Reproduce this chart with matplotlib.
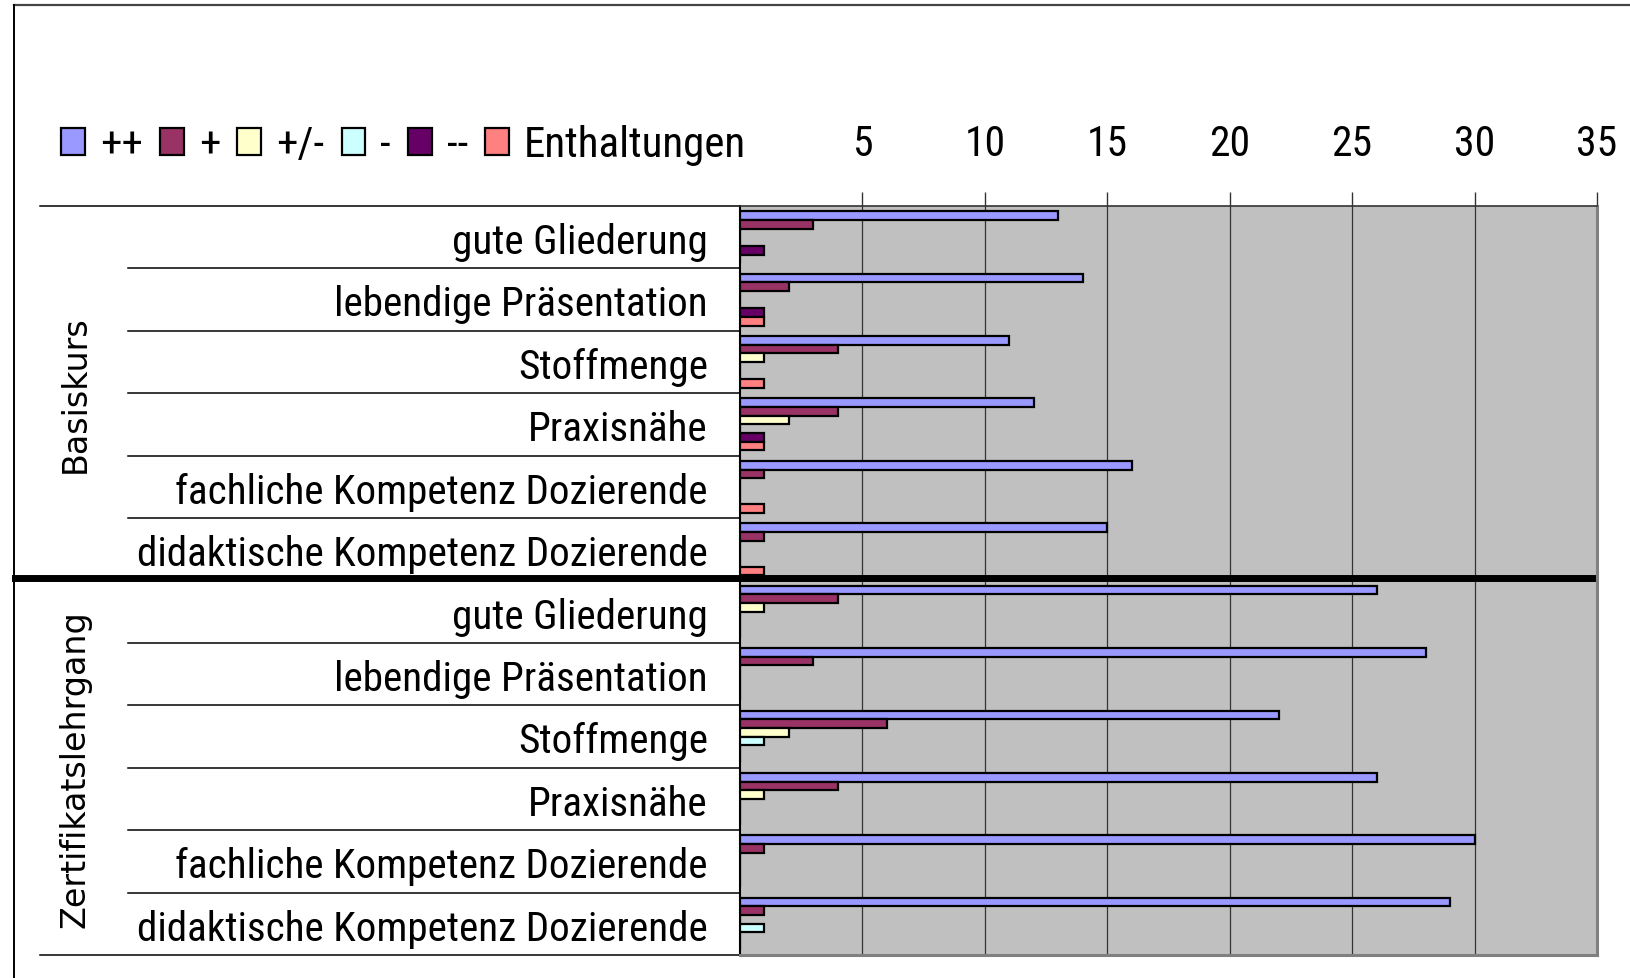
import matplotlib
matplotlib.use('Agg')
import matplotlib.pyplot as plt
import matplotlib.patches as patches
import matplotlib.transforms as transforms
from matplotlib import font_manager
from matplotlib.lines import Line2D

# categories, top to bottom
groups = ['Basiskurs', 'Zertifikatslehrgang']
criteria = ['gute Gliederung', 'lebendige Präsentation', 'Stoffmenge', 'Praxisnähe',
            'fachliche Kompetenz Dozierende', 'didaktische Kompetenz Dozierende']
categories = criteria + criteria

series_names = ['++', '+', '+/-', '-', '--', 'Enthaltungen']
series_colors = ['#9999FF', '#993366', '#FFFFCC', '#CCFFFF', '#660066', '#FF8080']

very_good = [13, 14, 11, 12, 16, 15, 26, 28, 22, 26, 30, 29]
good = [3, 2, 4, 4, 1, 1, 4, 3, 6, 4, 1, 1]
neutral = [0, 0, 1, 2, 0, 0, 1, 0, 2, 1, 0, 0]
bad = [0, 0, 0, 0, 0, 0, 0, 0, 1, 0, 0, 1]
very_bad = [1, 1, 0, 1, 0, 0, 0, 0, 0, 0, 0, 0]
abstentions = [0, 1, 1, 1, 1, 1, 0, 0, 0, 0, 0, 0]
values = [very_good, good, neutral, bad, very_bad, abstentions]

x_ticks = [5, 10, 15, 20, 25, 30, 35]

W, H = 1631, 979


def pick_font(cands):
    names = {f.name for f in font_manager.fontManager.ttflist}
    for c in cands:
        if c in names:
            return c
    return 'DejaVu Sans'


narrow = pick_font(['Liberation Sans Narrow', 'DejaVu Sans Condensed', 'Roboto Condensed', 'Liberation Sans'])
wide = 'DejaVu Sans'


def fx(px):
    return px / W


def fy(py):
    return 1 - py / H


fig = plt.figure(figsize=(W / 100, H / 100), dpi=100)
fig.patch.set_facecolor('white')

left, right, top, bottom = 740, 1597, 207, 956
ax = fig.add_axes([fx(left), fy(bottom), fx(right - left), (bottom - top) / H])
ax.set_facecolor('#C0C0C0')

n_cat = len(categories)
n_ser = len(series_names)
h = 0.139
gap = (1 - n_ser * h) / 2
for j, (vals, col) in enumerate(zip(values, series_colors)):
    ys = [i - 0.5 + gap + (j + 0.5) * h for i in range(n_cat)]
    ax.barh(ys, vals, height=h, color=col, edgecolor='black', linewidth=1.6, zorder=3)

ax.set_xlim(0, 35)
ax.set_ylim(n_cat - 0.5, -0.5)
ax.xaxis.tick_top()
ax.set_xticks(x_ticks)
ax.set_xticklabels([str(t) for t in x_ticks], fontsize=30, family=narrow)
ax.tick_params(axis='x', length=10, width=1, color='#333333', pad=20)
ax.set_yticks([])
ax.grid(axis='x', color='#333333', linewidth=0.9, zorder=1)

ax.spines['left'].set_color('black')
ax.spines['left'].set_linewidth(1.5)
ax.spines['top'].set_color('#333333')
ax.spines['top'].set_linewidth(1.2)
for s in ('right', 'bottom'):
    ax.spines[s].set_color('#808080')
    ax.spines[s].set_linewidth(2.2)

# category labels and separator lines in the label area
trans = transforms.blended_transform_factory(fig.transFigure, ax.transData)
for i, lab in enumerate(categories):
    ax.text(fx(708), i + 0.07, lab, transform=trans, ha='right', va='center',
            fontsize=29.6, family=narrow, clip_on=False)
for i in range(n_cat + 1):
    x0 = 40 if i % len(criteria) == 0 else 128
    ax.add_line(Line2D([fx(x0), fx(left)], [i - 0.5, i - 0.5], transform=trans,
                       color='black', linewidth=1.1, clip_on=False))

for g, name in enumerate(groups):
    yc = g * len(criteria) + (len(criteria) - 1) / 2
    ax.text(fx(75), yc, name, transform=trans, rotation=90, ha='center', va='center',
            fontsize=24, family=wide, clip_on=False)

# thick divider between the two groups
fig.add_artist(Line2D([fx(15), fx(1592)], [fy(579), fy(579)], color='black', linewidth=5))

# outer chart frame (cut at right and bottom)
fig.add_artist(Line2D([fx(14), fx(1631)], [fy(5.5), fy(5.5)], color='#444444', linewidth=1.6))
fig.add_artist(Line2D([fx(14), fx(14)], [fy(5.5), 0], color='black', linewidth=1.4))

# legend in one row at the top left
handles = [patches.Patch(facecolor=c, edgecolor='black', linewidth=1.6) for c in series_colors]
leg = fig.legend(handles, series_names, loc='center left', bbox_to_anchor=(fx(61), fy(146)),
                 ncol=n_ser, frameon=False, prop={'family': narrow, 'size': 31},
                 handlelength=0.55, handleheight=0.6, handletextpad=0.35,
                 columnspacing=0.4, borderaxespad=0, borderpad=0)

fig.savefig('out.png', dpi=100)
